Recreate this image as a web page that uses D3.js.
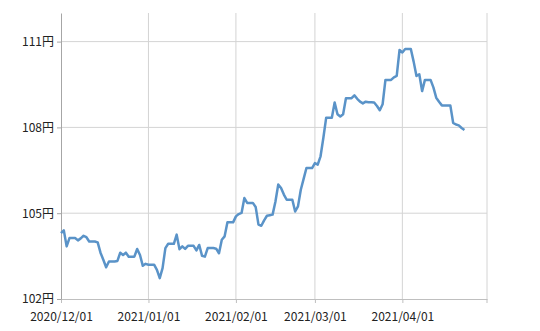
<!DOCTYPE html>
<html>
<head>
<meta charset="utf-8">
<script src="https://cdn.jsdelivr.net/npm/d3@7"></script>
<style>
  body { margin: 0; background: #fff; }
  svg text { font-family: "Noto Sans CJK JP", "Noto Sans", sans-serif; font-size: 12px; fill: #222; }
</style>
</head>
<body>
<svg id="chart" width="540" height="331"></svg>
<script>
// daily closing rate (weekends repeat Friday), starting 2020/12/01
var START = new Date(2020, 11, 1);
var rates = [
  104.30, 104.40, 103.84, 104.13, 104.13, 104.13,
  104.05, 104.12, 104.21, 104.16, 104.01, 104.01, 104.01,
  103.98, 103.62, 103.37, 103.11, 103.31, 103.31, 103.31,
  103.33, 103.62, 103.54, 103.62, 103.48, 103.48, 103.48,
  103.75, 103.54, 103.16, 103.23, 103.20, 103.20, 103.20,
  103.02, 102.73, 103.08, 103.78, 103.93, 103.93, 103.93,
  104.25, 103.74, 103.84, 103.75, 103.86, 103.86, 103.86,
  103.70, 103.89, 103.51, 103.48, 103.78, 103.78, 103.78,
  103.76, 103.60, 104.07, 104.19, 104.68, 104.68, 104.68,
  104.89, 104.97, 105.01, 105.53, 105.36, 105.36, 105.36,
  105.22, 104.60, 104.56, 104.75, 104.91, 104.93, 104.95,
  105.40, 106.00, 105.88, 105.65, 105.47, 105.47, 105.47,
  105.06, 105.24, 105.82, 106.20, 106.58, 106.58, 106.58,
  106.75, 106.70, 106.99, 107.64, 108.34, 108.34, 108.34,
  108.87, 108.46, 108.38, 108.46, 109.02, 109.02, 109.02,
  109.12, 109.00, 108.90, 108.84, 108.90, 108.88, 108.88,
  108.87, 108.75, 108.60, 108.81, 109.66, 109.66, 109.66,
  109.75, 109.80, 110.71, 110.62, 110.74, 110.74, 110.74,
  110.30, 109.80, 109.86, 109.27, 109.66, 109.66, 109.66,
  109.40, 109.04, 108.90, 108.77, 108.77, 108.77, 108.77,
  108.16, 108.10, 108.07, 107.98, 107.91
];
var yTicks = [102, 105, 108, 111];
var xTicks = [
  new Date(2020, 11, 1), new Date(2021, 0, 1), new Date(2021, 1, 1),
  new Date(2021, 2, 1), new Date(2021, 3, 1), new Date(2021, 4, 1)
];

var data = rates.map(function(v, i) {
  return { date: d3.timeDay.offset(START, i), value: v };
});

var svg = d3.select("#chart"),
    margin = { top: 13, right: 53, bottom: 32, left: 61 },
    width = +svg.attr("width") - margin.left - margin.right,
    height = +svg.attr("height") - margin.top - margin.bottom;

var x = d3.scaleTime()
    .domain([new Date(2020, 11, 1), new Date(2021, 4, 1)])
    .range([0, width]);

var y = d3.scaleLinear()
    .domain([102, 112])
    .range([height, 0]);

var g = svg.append("g")
    .attr("transform", "translate(" + margin.left + "," + margin.top + ")");

// gridlines
g.append("g").selectAll("line")
    .data(yTicks.slice(1))
    .enter().append("line")
    .attr("x1", 0).attr("x2", width)
    .attr("y1", function(d) { return y(d); })
    .attr("y2", function(d) { return y(d); })
    .attr("stroke", "#d4d4d4");

g.append("g").selectAll("line")
    .data(xTicks.slice(1))
    .enter().append("line")
    .attr("x1", function(d) { return x(d); })
    .attr("x2", function(d) { return x(d); })
    .attr("y1", 0).attr("y2", height)
    .attr("stroke", "#d4d4d4");

// x axis
var xAxis = g.append("g")
    .attr("transform", "translate(0," + height + ")")
    .call(d3.axisBottom(x).tickValues(xTicks.slice(0, 5))
      .tickFormat(d3.timeFormat("%Y/%m/%d")).tickSize(4).tickSizeOuter(0));
xAxis.select(".domain").attr("stroke", "#bfbfbf");
xAxis.selectAll(".tick line").attr("stroke", "#bfbfbf");
xAxis.selectAll("text").attr("dy", "1.25em").style("font-size", "12px");
// tick at right end
g.append("line")
    .attr("x1", x(xTicks[5])).attr("x2", x(xTicks[5]))
    .attr("y1", height).attr("y2", height + 4)
    .attr("stroke", "#bfbfbf");

// y axis
var yAxis = g.append("g")
    .call(d3.axisLeft(y).tickValues(yTicks)
      .tickFormat(function(d) { return d + "円"; }).tickSize(4).tickSizeOuter(0));
yAxis.select(".domain").attr("stroke", "#a6a6a6");
yAxis.selectAll(".tick line").attr("stroke", "#a6a6a6");
yAxis.selectAll("text").attr("x", -7).style("font-size", "12px");

// line
var line = d3.line()
    .x(function(d) { return x(d.date); })
    .y(function(d) { return y(d.value); });

g.append("path")
    .datum(data)
    .attr("fill", "none")
    .attr("stroke", "#5a93c8")
    .attr("stroke-width", 2.5)
    .attr("stroke-linejoin", "round")
    .attr("d", line);
</script>
</body>
</html>
